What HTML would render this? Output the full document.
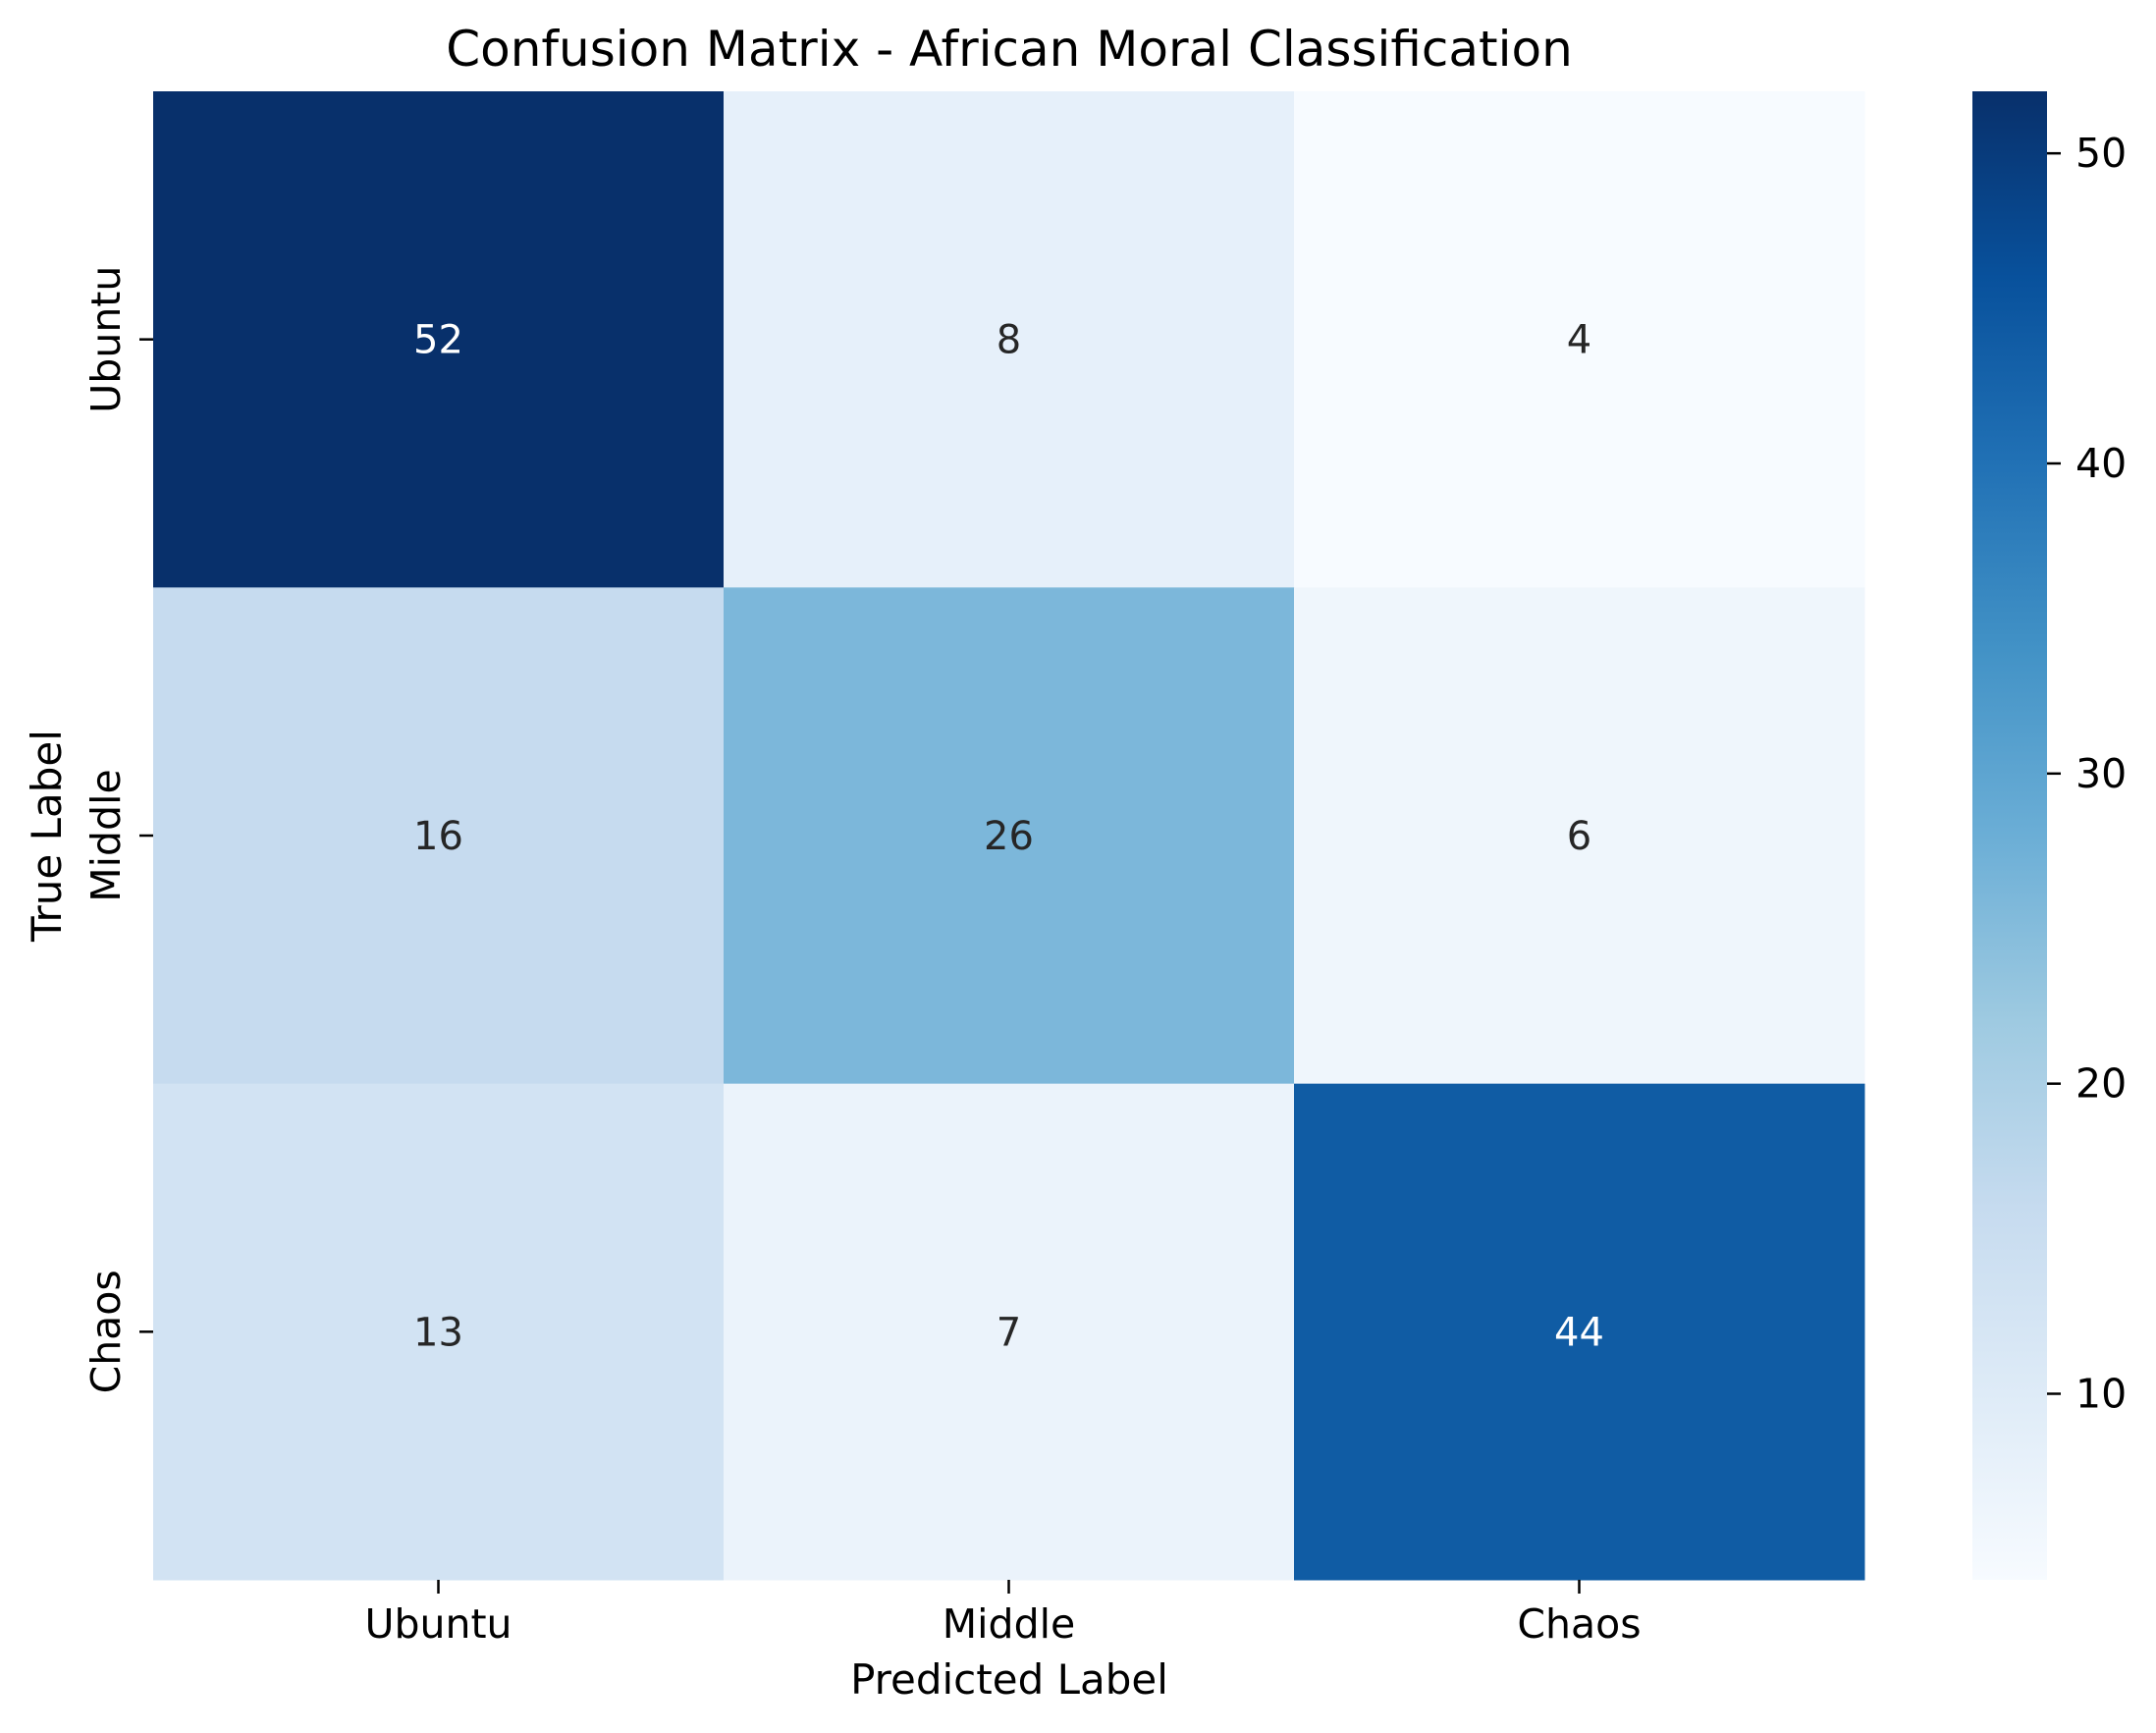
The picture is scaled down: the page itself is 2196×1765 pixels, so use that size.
<!DOCTYPE html>
<html><head><meta charset="utf-8"><style>
html,body{margin:0;padding:0;background:#fff}
svg{display:block;font-family:"DejaVu Sans","Liberation Sans",sans-serif}
</style></head><body>
<svg id="chart" width="2196" height="1765" viewBox="0 0 2196 1765" xmlns="http://www.w3.org/2000/svg">
<defs>
<linearGradient id="cbgrad" x1="0" y1="1" x2="0" y2="0">
<stop offset="0" stop-color="#f7fbff"/><stop offset="0.125" stop-color="#deebf7"/><stop offset="0.25" stop-color="#c6dbef"/><stop offset="0.375" stop-color="#9ecae1"/><stop offset="0.5" stop-color="#6baed6"/><stop offset="0.625" stop-color="#4292c6"/><stop offset="0.75" stop-color="#2171b5"/><stop offset="0.875" stop-color="#08519c"/><stop offset="1" stop-color="#08306b"/>
</linearGradient>
</defs>
<text x="1028" y="67" font-size="50" text-anchor="middle" fill="#000">Confusion Matrix - African Moral Classification</text>
<g id="cells"></g>
<g id="axes"></g>
<rect x="2009" y="93" width="76" height="1516" fill="url(#cbgrad)"/>
<g id="cbticks"></g>
<text x="1028" y="1725" font-size="42" text-anchor="middle" fill="#000">Predicted Label</text>
<text x="0" y="0" font-size="42" text-anchor="middle" fill="#000" transform="translate(62,851) rotate(-90)">True Label</text>
</svg>
<script>
const classLabels = ["Ubuntu", "Middle", "Chaos"];
const rowUbuntu = [52, 8, 4];
const rowMiddle = [16, 26, 6];
const rowChaos = [13, 7, 44];
const cbTicks = [10, 20, 30, 40, 50];
const vMin = 4, vMax = 52;

const matrix = [rowUbuntu, rowMiddle, rowChaos];
const NS = "http://www.w3.org/2000/svg";
const L = 156, R = 1899, T = 93, B = 1609;
const n = classLabels.length;
const cw = (R - L) / n, ch = (B - T) / n;
const xPos = i => L + i * cw;
const yPos = j => T + j * ch;
const cbY = v => B - (v - vMin) / (vMax - vMin) * (B - T);
const blues = ["#f7fbff","#deebf7","#c6dbef","#9ecae1","#6baed6","#4292c6","#2171b5","#08519c","#08306b"];
function hex(c){return [1,3,5].map(k=>parseInt(c.substr(k,2),16));}
function color(v){
  let t = Math.max(0, Math.min(1, (v - vMin) / (vMax - vMin))) * (blues.length - 1);
  let i = Math.min(Math.floor(t), blues.length - 2), f = t - i;
  let a = hex(blues[i]), b = hex(blues[i+1]);
  return "rgb(" + a.map((x,k)=>Math.round(x + (b[k]-x)*f)).join(",") + ")";
}
function mk(tag, attrs, parent){const e=document.createElementNS(NS,tag);for(const k in attrs)e.setAttribute(k,attrs[k]);parent.appendChild(e);return e;}
const cells = document.getElementById("cells");
const axes = document.getElementById("axes");
const cbt = document.getElementById("cbticks");
matrix.forEach((row, r) => {
  row.forEach((v, c) => {
    const rect = mk("rect", {x: xPos(c), y: yPos(r), width: cw + 0.5, height: ch + 0.5, fill: color(v)}, cells);
    
    
    const t = mk("text", {x: xPos(c) + cw/2, y: yPos(r) + ch/2 + 14, "font-size": 40, "text-anchor": "middle", fill: (v - vMin)/(vMax - vMin) > 0.6 ? "#ffffff" : "#262626"}, cells);
    t.textContent = v;
    
    
  });
});
classLabels.forEach((lab, i) => {
  const cx = xPos(i) + cw/2;
  const tk = mk("line", {x1: cx, x2: cx, y1: B, y2: B + 14, stroke: "#000", "stroke-width": 2.5}, axes);
  
  
  const tx = mk("text", {x: cx, y: 1668, "font-size": 41, "text-anchor": "middle", fill: "#000"}, axes);
  tx.textContent = lab;
  
  
  const cy = yPos(i) + ch/2;
  const ty = mk("line", {x1: L - 14, x2: L, y1: cy, y2: cy, stroke: "#000", "stroke-width": 2.5}, axes);
  
  
  const tl = mk("text", {x: 0, y: 0, "font-size": 41, "text-anchor": "middle", fill: "#000", transform: "translate(122," + cy + ") rotate(-90)"}, axes);
  tl.textContent = lab;
  
  
});
cbTicks.forEach(v => {
  const y = cbY(v);
  const l = mk("line", {x1: 2085, x2: 2099, y1: y, y2: y, stroke: "#000", "stroke-width": 2.5}, cbt);
  
  
  const t = mk("text", {x: 2114, y: y + 14, "font-size": 41, fill: "#000"}, cbt);
  t.textContent = v;
  
  
});
</script>
</body></html>
